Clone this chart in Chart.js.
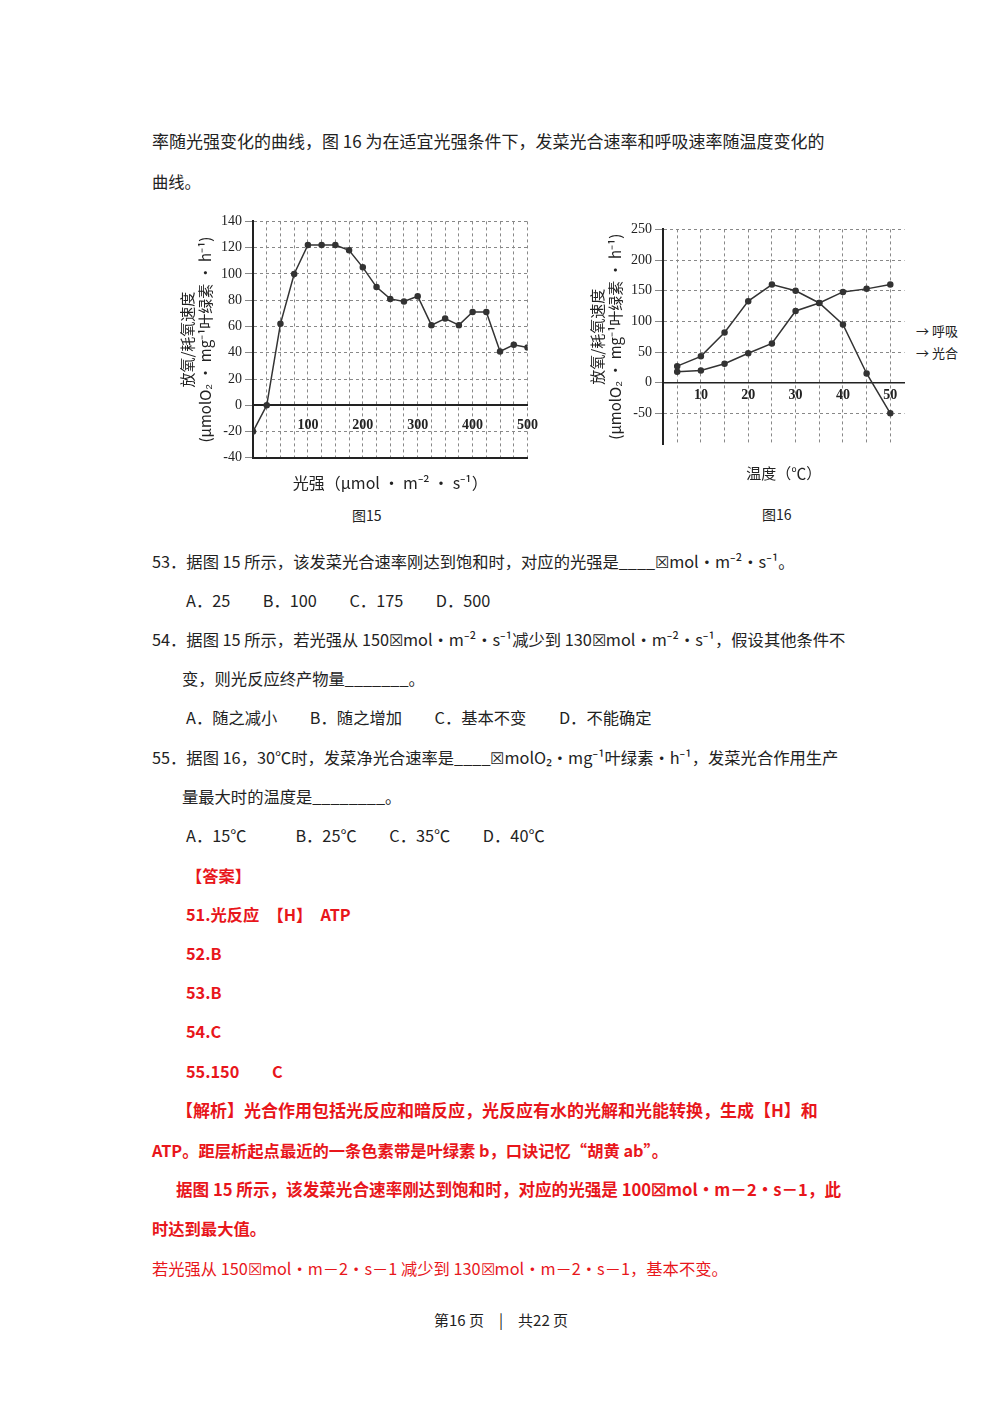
<!DOCTYPE html>
<html><head><meta charset="utf-8">
<script src="https://cdn.jsdelivr.net/npm/chart.js@4"></script>
<style>
body{margin:0;width:1000px;height:1414px;background:#fff;font-family:"Noto Sans CJK SC","Noto Sans",sans-serif;color:#222;position:relative}
.t{position:absolute;font-size:16.3px;white-space:nowrap;line-height:20px}
.r{color:#e8161b;font-weight:bold}
.rn{color:#e8161b}
.box{position:absolute}
</style></head><body>
<div class="t" style="left:152px;top:131px;font-size:17px">率随光强变化的曲线，图 16 为在适宜光强条件下，发菜光合速率和呼吸速率随温度变化的</div>
<div class="t" style="left:152px;top:171px">曲线。</div>
<div class="box" style="left:174px;top:210px;width:376px;height:287px"><canvas id="c1"></canvas></div>
<div class="box" style="left:584px;top:218px;width:326px;height:268px"><canvas id="c2"></canvas></div>
<div class="t" style="left:916px;top:321px;font-size:13px">→ 呼吸</div>
<div class="t" style="left:916px;top:343px;font-size:13px">→ 光合</div>
<div class="t" style="left:352px;top:505px;font-size:14px">图15</div>
<div class="t" style="left:762px;top:504px;font-size:14px">图16</div>
<div class="t" style="left:152px;top:551px">53．据图 15 所示，该发菜光合速率刚达到饱和时，对应的光强是____☒mol·m⁻²·s⁻¹。</div>
<div class="t" style="left:186px;top:590px">A．25　　B．100　　C．175　　D．500</div>
<div class="t" style="left:152px;top:629px">54．据图 15 所示，若光强从 150☒mol·m⁻²·s⁻¹减少到 130☒mol·m⁻²·s⁻¹，假设其他条件不</div>
<div class="t" style="left:182px;top:668px">变，则光反应终产物量_______。</div>
<div class="t" style="left:186px;top:707px">A．随之减小　　B．随之增加　　C．基本不变　　D．不能确定</div>
<div class="t" style="left:152px;top:747px">55．据图 16，30℃时，发菜净光合速率是____☒molO₂·mg⁻¹叶绿素·h⁻¹，发菜光合作用生产</div>
<div class="t" style="left:182px;top:786px">量最大时的温度是________。</div>
<div class="t" style="left:186px;top:825px">A．15℃　　　B．25℃　　C．35℃　　D．40℃</div>
<div class="t r" style="left:186px;top:865px">【答案】</div>
<div class="t r" style="left:186px;top:904px">51.光反应　【H】　ATP</div>
<div class="t r" style="left:186px;top:943px">52.B</div>
<div class="t r" style="left:186px;top:982px">53.B</div>
<div class="t r" style="left:186px;top:1021px">54.C</div>
<div class="t r" style="left:186px;top:1061px">55.150　　C</div>
<div class="t r" style="left:176px;top:1100px;font-size:17px">【解析】光合作用包括光反应和暗反应，光反应有水的光解和光能转换，生成【H】和</div>
<div class="t r" style="left:152px;top:1140px">ATP。距层析起点最近的一条色素带是叶绿素 b，口诀记忆“胡黄 ab”。</div>
<div class="t r" style="left:176px;top:1179px;font-size:16.6px">据图 15 所示，该发菜光合速率刚达到饱和时，对应的光强是 100☒mol•m－2•s－1，此</div>
<div class="t r" style="left:152px;top:1218px">时达到最大值。</div>
<div class="t rn" style="left:152px;top:1258px">若光强从 150☒mol•m－2•s－1 减少到 130☒mol•m－2•s－1，基本不变。</div>
<div class="t" style="left:434px;top:1310px;font-size:15px">第16 页　|　共22 页</div>
<script>
const lightX=[0,25,50,75,100,125,150,175,200,225,250,275,300,325,350,375,400,425,450,475,500];
const o2Rate=[-20,0,62,100,122,122,122,118,105,90,81,79,83,61,66,61,71,71,41,46,44];
const tempX=[5,10,15,20,25,30,35,40,45,50];
const photoRate=[27,43,82,133,160,150,130,95,15,-50];
const respRate=[18,20,31,48,64,117,130,148,153,160];
const xTicks15=[100,200,300,400,500];
const xTicks16=[10,20,30,40,50];
const yTitle=['放氧/耗氧速度','(μmolO₂ · mg⁻¹叶绿素 · h⁻¹)'];
const F='"Noto Sans CJK SC",sans-serif';
const grid={color:'#888',lineWidth:1};
function ds(data,x){return {data:x.map((v,i)=>({x:v,y:data[i]})),borderColor:'#333',backgroundColor:'#333',borderWidth:1.5,pointRadius:2.5,tension:0};}
new Chart(document.getElementById('c1'),{type:'line',
 data:{datasets:[ds(o2Rate,lightX)]},
 options:{responsive:true,maintainAspectRatio:false,animation:false,
  layout:{padding:{top:4,right:22}},
  plugins:{legend:{display:false},tooltip:{enabled:false}},
  scales:{
   x:{type:'linear',min:0,max:500,position:{y:0},
      afterBuildTicks:s=>{s.ticks=lightX.map(v=>({value:v}));},
      ticks:{color:'#222',font:{family:'Liberation Serif',size:14,weight:'bold'},padding:12,maxRotation:0,autoSkip:false,
        callback:v=>xTicks15.includes(v)?String(v):''},
      grid:{...grid,drawTicks:false},border:{color:'#222',width:2,dash:[3,3]}},
   y:{min:-40,max:140,ticks:{stepSize:20,color:'#222',font:{family:'Liberation Serif',size:14}},
      grid:{...grid},border:{color:'#222',width:2,dash:[3,3]},
      title:{display:true,text:yTitle,color:'#222',font:{family:F,size:15},padding:{bottom:4}}},
   x2:{type:'linear',position:'bottom',min:0,max:500,ticks:{display:false},grid:{display:false},border:{color:'#222',width:2},
      title:{display:true,text:'光强（μmol · m⁻² · s⁻¹）',color:'#222',font:{family:F,size:16},padding:{top:8}}}
  }}});
new Chart(document.getElementById('c2'),{type:'line',
 data:{datasets:[ds(photoRate,tempX),ds(respRate,tempX)]},
 options:{responsive:true,maintainAspectRatio:false,animation:false,
  layout:{padding:{top:6,right:0}},
  plugins:{legend:{display:false},tooltip:{enabled:false}},
  scales:{
   x:{type:'linear',min:2,max:53,position:{y:0},
      afterBuildTicks:s=>{s.ticks=[5,10,15,20,25,30,35,40,45,50].map(v=>({value:v}));},
      ticks:{color:'#222',font:{family:'Liberation Serif',size:14,weight:'bold'},padding:4,maxRotation:0,autoSkip:false,
        callback:v=>xTicks16.includes(v)?String(v):''},
      grid:{...grid,drawTicks:false},border:{color:'#222',width:1.5,dash:[3,3]}},
   y:{min:-100,max:250,afterBuildTicks:s=>{s.ticks=[-50,0,50,100,150,200,250].map(v=>({value:v}));},
      ticks:{color:'#222',font:{family:'Liberation Serif',size:14}},
      grid:{...grid},border:{color:'#222',width:2,dash:[3,3]},
      title:{display:true,text:yTitle,color:'#222',font:{family:F,size:15}}},
   x2:{type:'linear',position:'bottom',min:2,max:53,ticks:{display:false},grid:{display:false},border:{display:false},
      title:{display:true,text:'温度（℃）',color:'#222',font:{family:F,size:15},padding:{top:12}}}
  }}});
</script>
</body></html>
